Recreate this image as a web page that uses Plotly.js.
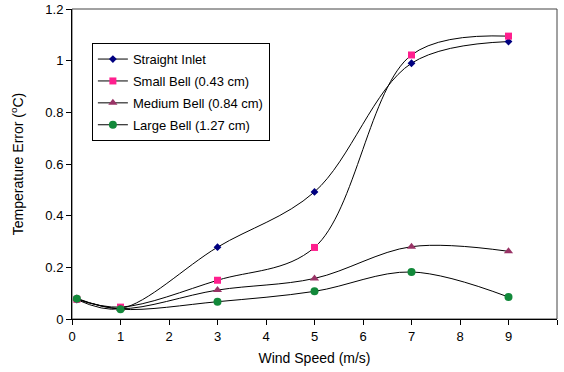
<!DOCTYPE html>
<html>
<head>
<meta charset="utf-8">
<script src="https://cdn.plot.ly/plotly-3.0.1.min.js"></script>
<style>html,body{margin:0;padding:0;background:#fff;}#chart{width:564px;height:372px;}</style>
</head>
<body>
<div id="chart"></div>
<script>
const windSpeed = [0.1, 1, 3, 5, 7, 9];
const straightInlet = [0.075, 0.04, 0.278, 0.492, 0.99, 1.074];
const smallBell = [0.076, 0.046, 0.15, 0.277, 1.022, 1.095];
const mediumBell = [0.08, 0.04, 0.112, 0.157, 0.28, 0.262];
const largeBell = [0.078, 0.038, 0.067, 0.107, 0.182, 0.085];
const seriesNames = ["Straight Inlet", "Small Bell (0.43 cm)", "Medium Bell (0.84 cm)", "Large Bell (1.27 cm)"];
const xTicks = [0,1,2,3,4,5,6,7,8,9,10];
const yTicks = [0,0.2,0.4,0.6,0.8,1,1.2];
const yTickText = ["0","0.2","0.4","0.6","0.8","1","1.2"];

const styles = [
  {symbol: "diamond", color: "#000080", size: 6},
  {symbol: "square", color: "#FF1F8E", size: 7},
  {symbol: "triangle-up", color: "#993366", size: 8},
  {symbol: "circle", color: "#12893A", size: 8}
];
const values = [straightInlet, smallBell, mediumBell, largeBell];

const traces = values.map((v, i) => ({
  x: windSpeed, y: v, name: seriesNames[i], legendgroup: "g" + i, type: "scatter", mode: "lines+markers",
  line: {color: "#000", width: 1, shape: "spline", smoothing: 1},
  marker: {symbol: styles[i].symbol, color: styles[i].color, size: styles[i].size, line: {width: 0}}
}));

const fam = "Liberation Sans, Arial, sans-serif";
const layout = {
  width: 564, height: 372,
  margin: {l: 72, r: 7, t: 9, b: 53},
  paper_bgcolor: "#fff", plot_bgcolor: "#fff",
  font: {family: fam, size: 13, color: "#000"},
  showlegend: true,
  legend: {x: 0.041, y: 0.89, xanchor: "left", yanchor: "top", bordercolor: "#000", borderwidth: 1,
           bgcolor: "#fff", font: {family: fam, size: 13, color: "#000"}, tracegroupgap: 2, itemwidth: 30},
  xaxis: {range: [0, 10], tickvals: xTicks, ticks: "outside", ticklen: 5, tickcolor: "#000",
          showline: true, linecolor: "#000", linewidth: 1, showgrid: false, zeroline: false,
          tickfont: {family: fam, size: 13},
          title: {text: "Wind Speed (m/s)", font: {family: fam, size: 14}, standoff: 10}},
  yaxis: {range: [0, 1.2], tickvals: yTicks, ticktext: yTickText, ticks: "outside", ticklen: 5, tickcolor: "#000",
          showline: true, linecolor: "#000", linewidth: 1, showgrid: false, zeroline: false,
          tickfont: {family: fam, size: 13},
          title: {text: "Temperature Error (<sup>o</sup>C)", font: {family: fam, size: 14}, standoff: 18}},
  shapes: [{type: "rect", xref: "paper", yref: "paper", x0: 0, x1: 1, y0: 0, y1: 1,
            line: {color: "#444", width: 1}, layer: "below"}]
};
Plotly.newPlot("chart", traces, layout, {displayModeBar: false, staticPlot: true});
</script>
</body>
</html>
